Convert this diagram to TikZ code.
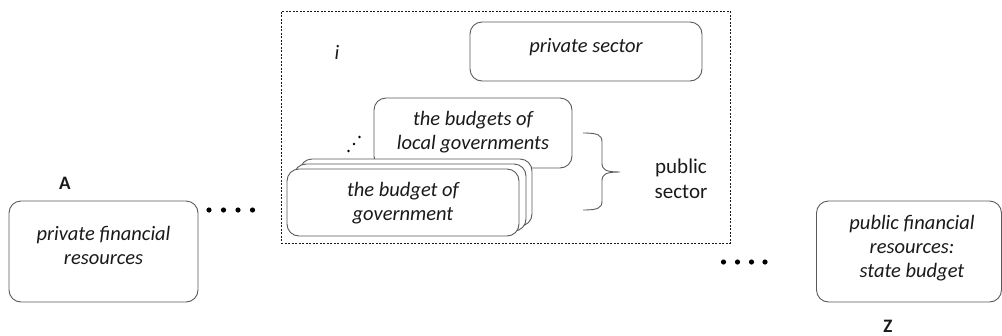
\documentclass[tikz,border=0pt]{standalone}
\usepackage{fontspec}
\setmainfont{Carlito}
\definecolor{boxgray}{HTML}{5A5A5A}
\definecolor{textc}{HTML}{1A1A1A}
\begin{document}
\begin{tikzpicture}[x=1pt,y=-1pt,
  box/.style={draw=boxgray, line width=0.9pt, rounded corners=12pt, fill=white, inner sep=0pt},
  itext/.style={font=\fontsize{20.5}{24}\selectfont\itshape, align=center, text=textc, inner sep=0pt},
  rtext/.style={font=\fontsize{21}{25}\selectfont, align=center, text=textc, inner sep=0pt},
  btext/.style={font=\fontsize{19}{20}\selectfont\bfseries, text=textc, inner sep=0pt},
  dot/.style={fill=black}]
\useasboundingbox (0,0) rectangle (1002,335);
% dashed frame
\node[draw=textc, line width=0.6pt, dash pattern=on 2pt off 1.5pt, minimum width=449pt, minimum height=232pt, inner sep=0pt] (frame) at (505.5,127) {};
% private sector
\node[box, minimum width=232pt, minimum height=59pt] (priv) at (586,51.5) {};
\node[itext] (privt) at (586,47) {private sector};
\node[itext] (i) at (337,52) {i};
% local governments
\node[box, minimum width=198pt, minimum height=70pt] (local) at (473,133) {};
\node[itext] (localt) at (473,132) {the budgets of\\local governments};
% stacked government boxes
\node[box, minimum width=232pt, minimum height=67pt] (gov3) at (416,192.5) {};
\node[box, minimum width=232pt, minimum height=67pt] (gov2) at (410,197.5) {};
\node[box, minimum width=232pt, minimum height=67pt] (gov) at (403,202.5) {};
\node[itext] (govt) at (403,203.5) {the budget of\\government};
% ellipsis dots
\fill[dot] (348.5,151) circle (1.3pt) (354,144) circle (1.3pt) (359.5,137) circle (1.3pt);
% brace
\coordinate (bt) at (583,133);
\coordinate (bb) at (583,210);
\coordinate (tip) at (620,172);
\draw[boxgray, line width=0.9pt] (bt) .. controls (598,133) and (602,135) .. (602,142) -- (602,163)
  .. controls (602,170) and (606,172) .. (tip)
  .. controls (606,172) and (602,174) .. (602,181) -- (602,201)
  .. controls (602,208) and (598,210) .. (bb);
\node[rtext] (pub) at (681,179) {public\\sector};
% left box
\node[box, minimum width=189pt, minimum height=101pt] (left) at (103.5,251.5) {};
\node[itext] (leftt) at (103.5,245) {private financial\\resources};
\node[btext] (A) at (65,183) {A};
% right box
\node[box, minimum width=185pt, minimum height=101pt] (right) at (909,251.5) {};
\node[itext] (rightt) at (912,248.5) {public financial\\resources:\\state budget};
\node[btext] (Z) at (888,326) {Z};
% dots
\foreach \x in {209,223.5,238,252.5} \fill[dot] (\x,210) circle (2.6pt);
\foreach \x in {723.5,737.5,751.5,765} \fill[dot] (\x,262) circle (2.6pt);
\end{tikzpicture}
\end{document}
